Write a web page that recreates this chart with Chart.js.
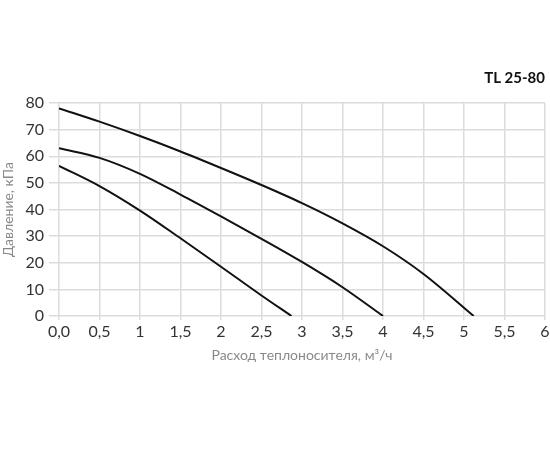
<!DOCTYPE html>
<html>
<head>
<meta charset="utf-8">
<script src="https://cdn.jsdelivr.net/npm/chart.js@4/dist/chart.umd.min.js"></script>
<style>
  html, body { margin: 0; padding: 0; background: #fff; }
  #wrap { width: 550px; height: 450px; }
</style>
</head>
<body>
<div id="wrap"><canvas id="grafico" width="550" height="450"></canvas></div>
<script>
// Расход, м3/ч и давление, кПа - три скорости насоса
const rasxod1 = [0, 0.5, 1, 1.5, 2, 2.5, 3, 3.5, 4, 4.5, 5.12]
const davl1 = [78, 73, 67.6, 61.8, 55.6, 49.2, 42.4, 34.8, 26.2, 15.8, 0]

const rasxod2 = [0, 0.5, 1, 1.5, 2, 2.5, 3, 3.5, 4]
const davl2 = [63, 59.4, 53.4, 45.6, 37.4, 29, 20.3, 10.8, 0]

const rasxod3 = [0, 0.5, 1, 1.5, 2, 2.5, 2.87]
const davl3 = [56.4, 48.8, 39.6, 29.2, 18.5, 7.7, 0]

const titulo = "TL 25-80"
const ejeX = "Расход теплоносителя, м³/ч"
const ejeY = "Давление, кПа"

const puntos = (xs, ys) => xs.map((x, i) => ({ x: x, y: ys[i] }))

const linea = (xs, ys) => ({
    data: puntos(xs, ys),
    showLine: true,
    borderColor: "#111",
    borderWidth: 2,
    pointRadius: 0,
    cubicInterpolationMode: "monotone",
    fill: false
})

const fuente = "Lato, 'DejaVu Sans', sans-serif"
const colorGrid = "#dcdcdc"

const config = {
    type: "scatter",
    data: {
        datasets: [linea(rasxod1, davl1), linea(rasxod2, davl2), linea(rasxod3, davl3)]
    },
    options: {
        responsive: false,
        animation: false,
        layout: { padding: { top: 0, right: 5, bottom: 82, left: 0 } },
        plugins: {
            legend: { display: false },
            tooltip: { enabled: false },
            title: {
                display: true,
                text: titulo,
                align: "end",
                color: "#111",
                font: { family: fuente, size: 15, weight: "bold" },
                padding: { top: 69, bottom: 16 }
            }
        },
        scales: {
            x: {
                type: "linear",
                min: 0,
                max: 6,
                afterFit: (s) => { s.paddingLeft = 0; s.paddingRight = 0 },
                ticks: {
                    stepSize: 0.5,
                    color: "#333",
                    padding: 2,
                    maxRotation: 0,
                    font: { family: fuente, size: 16 },
                    callback: (v) => v === 0 ? "0,0" : String(v).replace(".", ",")
                },
                grid: { color: colorGrid, lineWidth: 1.5, tickLength: 4 },
                border: { display: false },
                title: {
                    display: true,
                    text: ejeX,
                    color: "#8a8a8a",
                    font: { family: fuente, size: 14 },
                    padding: { top: 4 }
                }
            },
            y: {
                min: 0,
                max: 80,
                afterFit: (s) => { s.width = 59 },
                ticks: {
                    stepSize: 10,
                    color: "#333",
                    padding: 5,
                    font: { family: fuente, size: 16 }
                },
                grid: { color: colorGrid, lineWidth: 1.5, tickLength: 10 },
                border: { display: false },
                title: {
                    display: true,
                    text: ejeY,
                    color: "#8a8a8a",
                    font: { family: fuente, size: 14 },
                    padding: 0
                }
            }
        }
    }
}

const grafico = new Chart(document.getElementById("grafico"), config)
</script>
</body>
</html>
